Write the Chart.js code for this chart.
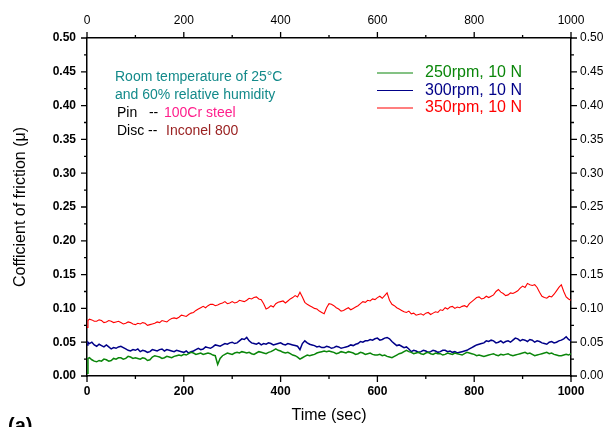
<!DOCTYPE html>
<html>
<head>
<meta charset="utf-8">
<script src="https://cdn.jsdelivr.net/npm/chart.js@4/dist/chart.umd.min.js"></script>
<style>
  html, body { margin: 0; padding: 0; background: #ffffff; }
  #wrap { width: 608px; height: 427px; position: relative; }
</style>
</head>
<body>
<div id="wrap"><canvas id="cof" width="608" height="427"></canvas></div>
<script>
// Sliding time (s)
const timeSec = [0, 2,
  5, 10, 15, 20, 25, 30, 35, 40, 45, 50,
  55, 60, 65, 70, 75, 80, 85, 90, 95, 100,
  105, 110, 115, 120, 125, 130, 135, 140, 145, 150,
  155, 160, 165, 170, 175, 180, 185, 190, 195, 200,
  205, 210, 215, 220, 225, 230, 235, 240, 245, 250,
  255, 260, 265, 270, 275, 280, 285, 290, 295, 300,
  305, 310, 315, 320, 325, 330, 335, 340, 345, 350,
  355, 360, 365, 370, 375, 380, 385, 390, 395, 400,
  405, 410, 415, 420, 425, 430, 435, 440, 445, 450,
  455, 460, 465, 470, 475, 480, 485, 490, 495, 500,
  505, 510, 515, 520, 525, 530, 535, 540, 545, 550,
  555, 560, 565, 570, 575, 580, 585, 590, 595, 600,
  605, 610, 615, 620, 625, 630, 635, 640, 645, 650,
  655, 660, 665, 670, 675, 680, 685, 690, 695, 700,
  705, 710, 715, 720, 725, 730, 735, 740, 745, 750,
  755, 760, 765, 770, 775, 780, 785, 790, 795, 800,
  805, 810, 815, 820, 825, 830, 835, 840, 845, 850,
  855, 860, 865, 870, 875, 880, 885, 890, 895, 900,
  905, 910, 915, 920, 925, 930, 935, 940, 945, 950,
  955, 960, 965, 970, 975, 980, 985, 990, 995, 1000];

// Coefficient of friction, 250 rpm / 10 N
const cof250 = [0.004, 0.026,
  0.027, 0.024, 0.022, 0.021, 0.023, 0.022, 0.025, 0.024, 0.022, 0.023,
  0.026, 0.025, 0.027, 0.027, 0.025, 0.026, 0.029, 0.028, 0.026, 0.027,
  0.026, 0.025, 0.027, 0.026, 0.023, 0.024, 0.028, 0.030, 0.029, 0.028,
  0.026, 0.027, 0.029, 0.028, 0.027, 0.029, 0.030, 0.031, 0.030, 0.032,
  0.031, 0.033, 0.035, 0.034, 0.032, 0.033, 0.034, 0.032, 0.033, 0.034,
  0.033, 0.031, 0.030, 0.017, 0.026, 0.030, 0.032, 0.034, 0.033, 0.032,
  0.034, 0.035, 0.034, 0.036, 0.035, 0.034, 0.035, 0.033, 0.032, 0.034,
  0.036, 0.035, 0.034, 0.033, 0.035, 0.036, 0.038, 0.040, 0.038, 0.037,
  0.035, 0.034, 0.035, 0.033, 0.031, 0.030, 0.028, 0.025, 0.027, 0.029,
  0.031, 0.030, 0.031, 0.032, 0.034, 0.035, 0.036, 0.037, 0.036, 0.037,
  0.036, 0.035, 0.033, 0.034, 0.036, 0.035, 0.034, 0.036, 0.035, 0.034,
  0.032, 0.033, 0.035, 0.034, 0.032, 0.033, 0.034, 0.032, 0.031, 0.031,
  0.032, 0.030, 0.031, 0.029, 0.028, 0.027, 0.029, 0.031, 0.033, 0.034,
  0.036, 0.038, 0.036, 0.035, 0.033, 0.034, 0.035, 0.033, 0.032, 0.034,
  0.035, 0.033, 0.032, 0.034, 0.033, 0.033, 0.031, 0.032, 0.034, 0.033,
  0.032, 0.034, 0.033, 0.032, 0.031, 0.033, 0.035, 0.034, 0.033, 0.032,
  0.030, 0.031, 0.030, 0.029, 0.030, 0.031, 0.032, 0.033, 0.031, 0.030,
  0.032, 0.031, 0.032, 0.033, 0.031, 0.030, 0.031, 0.032, 0.033, 0.034,
  0.035, 0.033, 0.034, 0.032, 0.030, 0.031, 0.032, 0.033, 0.034, 0.035,
  0.033, 0.034, 0.032, 0.031, 0.030, 0.030, 0.031, 0.032, 0.031, 0.033];

// Coefficient of friction, 300 rpm / 10 N
const cof300 = [0.046, 0.050,
  0.048, 0.050, 0.046, 0.044, 0.047, 0.045, 0.043, 0.046, 0.043, 0.040,
  0.042, 0.041, 0.043, 0.044, 0.042, 0.040, 0.038, 0.037, 0.039, 0.038,
  0.040, 0.036, 0.038, 0.037, 0.035, 0.036, 0.039, 0.038, 0.037, 0.039,
  0.040, 0.037, 0.039, 0.038, 0.037, 0.036, 0.038, 0.037, 0.036, 0.035,
  0.037, 0.034, 0.036, 0.037, 0.039, 0.041, 0.039, 0.040, 0.043, 0.042,
  0.041, 0.043, 0.046, 0.045, 0.044, 0.046, 0.048, 0.047, 0.049, 0.050,
  0.048, 0.049, 0.052, 0.055, 0.054, 0.057, 0.052, 0.049, 0.048, 0.047,
  0.049, 0.046, 0.048, 0.047, 0.049, 0.048, 0.046, 0.047, 0.048, 0.049,
  0.047, 0.046, 0.048, 0.047, 0.046, 0.045, 0.044, 0.039, 0.048, 0.052,
  0.049, 0.047, 0.046, 0.045, 0.043, 0.044, 0.042, 0.042, 0.044, 0.043,
  0.041, 0.042, 0.044, 0.043, 0.041, 0.042, 0.043, 0.044, 0.046, 0.045,
  0.047, 0.048, 0.051, 0.050, 0.052, 0.052, 0.054, 0.053, 0.055, 0.056,
  0.053, 0.054, 0.056, 0.057, 0.055, 0.051, 0.048, 0.045, 0.046, 0.044,
  0.042, 0.043, 0.040, 0.036, 0.038, 0.037, 0.035, 0.036, 0.038, 0.037,
  0.035, 0.036, 0.038, 0.037, 0.035, 0.036, 0.038, 0.038, 0.036, 0.037,
  0.035, 0.036, 0.034, 0.035, 0.036, 0.037, 0.038, 0.040, 0.042, 0.044,
  0.046, 0.047, 0.048, 0.049, 0.052, 0.051, 0.053, 0.052, 0.049, 0.050,
  0.052, 0.049, 0.051, 0.052, 0.050, 0.053, 0.056, 0.055, 0.052, 0.054,
  0.053, 0.051, 0.054, 0.053, 0.050, 0.052, 0.051, 0.049, 0.048, 0.047,
  0.050, 0.051, 0.049, 0.050, 0.052, 0.053, 0.055, 0.058, 0.054, 0.052];

// Coefficient of friction, 350 rpm / 10 N
const cof350 = [0.072, 0.082,
  0.084, 0.083, 0.081, 0.081, 0.083, 0.082, 0.079, 0.080, 0.082, 0.081,
  0.079, 0.080, 0.081, 0.079, 0.077, 0.078, 0.080, 0.079, 0.077, 0.076,
  0.078, 0.077, 0.079, 0.078, 0.075, 0.076, 0.077, 0.078, 0.080, 0.079,
  0.082, 0.081, 0.080, 0.083, 0.085, 0.086, 0.085, 0.087, 0.090, 0.089,
  0.088, 0.091, 0.093, 0.094, 0.097, 0.099, 0.101, 0.103, 0.101, 0.104,
  0.106, 0.106, 0.104, 0.105, 0.107, 0.108, 0.110, 0.107, 0.108, 0.110,
  0.108, 0.109, 0.112, 0.111, 0.110, 0.112, 0.115, 0.114, 0.116, 0.117,
  0.114, 0.113, 0.107, 0.099, 0.101, 0.104, 0.102, 0.107, 0.109, 0.110,
  0.111, 0.108, 0.111, 0.114, 0.116, 0.119, 0.117, 0.124, 0.117, 0.109,
  0.106, 0.104, 0.102, 0.100, 0.099, 0.096, 0.094, 0.092, 0.101, 0.107,
  0.106, 0.104, 0.101, 0.099, 0.096, 0.097, 0.099, 0.101, 0.098, 0.100,
  0.102, 0.104, 0.107, 0.110, 0.109, 0.112, 0.111, 0.114, 0.113, 0.116,
  0.118, 0.115, 0.119, 0.123, 0.112, 0.106, 0.104, 0.101, 0.099, 0.097,
  0.095, 0.094, 0.096, 0.092, 0.093, 0.090, 0.091, 0.092, 0.090, 0.093,
  0.094, 0.091, 0.093, 0.095, 0.094, 0.098, 0.097, 0.101, 0.099, 0.102,
  0.103, 0.100, 0.102, 0.101, 0.103, 0.104, 0.102, 0.107, 0.110, 0.113,
  0.116, 0.117, 0.114, 0.115, 0.118, 0.116, 0.118, 0.120, 0.125, 0.128,
  0.124, 0.122, 0.119, 0.120, 0.123, 0.122, 0.124, 0.126, 0.130, 0.133,
  0.131, 0.137, 0.135, 0.134, 0.135, 0.131, 0.124, 0.118, 0.116, 0.115,
  0.118, 0.117, 0.121, 0.126, 0.131, 0.135, 0.125, 0.117, 0.114, 0.112];

const seriesLabels = ['250rpm, 10 N', '300rpm, 10 N', '350rpm, 10 N'];
const xTickValues = [0, 200, 400, 600, 800, 1000];
const yTickValues = [0, 0.05, 0.10, 0.15, 0.20, 0.25, 0.30, 0.35, 0.40, 0.45, 0.50];

const lineColors = ['#0a860a', '#000088', '#ff0000'];
const FONT = 'Arial, "Liberation Sans", sans-serif';

function toPoints(values) {
  return timeSec.map((t, i) => ({ x: t, y: values[i] }));
}

function setTicks(values) {
  return scale => { scale.ticks = values.map(v => ({ value: v })); };
}

// Tick marks drawn outward on all four axes, with a minor tick between majors
const tickMarks = {
  id: 'tickMarks',
  afterDraw(chart) {
    const ctx = chart.ctx;
    const { x, xTop, y, yRight } = chart.scales;
    const a = chart.chartArea;
    const major = 6, minor = 3;
    ctx.save();
    ctx.strokeStyle = '#000';
    ctx.lineWidth = 1.3;
    ctx.beginPath();
    const xMinor = xTickValues.slice(1).map((v, i) => (v + xTickValues[i]) / 2);
    const yMinor = yTickValues.slice(1).map((v, i) => (v + yTickValues[i]) / 2);
    xTickValues.forEach(v => {
      const px = x.getPixelForValue(v);
      ctx.moveTo(px, a.bottom); ctx.lineTo(px, a.bottom + major);
      const pt = xTop.getPixelForValue(v);
      ctx.moveTo(pt, a.top); ctx.lineTo(pt, a.top - major);
    });
    xMinor.forEach(v => {
      const px = x.getPixelForValue(v);
      ctx.moveTo(px, a.bottom); ctx.lineTo(px, a.bottom + minor);
      const pt = xTop.getPixelForValue(v);
      ctx.moveTo(pt, a.top); ctx.lineTo(pt, a.top - minor);
    });
    yTickValues.forEach(v => {
      const py = y.getPixelForValue(v);
      ctx.moveTo(a.left, py); ctx.lineTo(a.left - major, py);
      const pr = yRight.getPixelForValue(v);
      ctx.moveTo(a.right, pr); ctx.lineTo(a.right + major, pr);
    });
    yMinor.forEach(v => {
      const py = y.getPixelForValue(v);
      ctx.moveTo(a.left, py); ctx.lineTo(a.left - minor, py);
      const pr = yRight.getPixelForValue(v);
      ctx.moveTo(a.right, pr); ctx.lineTo(a.right + minor, pr);
    });
    ctx.stroke();
    ctx.restore();
  }
};

// In-plot legend and test-condition notes
const notes = {
  id: 'notes',
  afterDraw(chart) {
    const ctx = chart.ctx;
    ctx.save();
    // legend
    ctx.font = '16px ' + FONT;
    ctx.textBaseline = 'middle';
    chart.data.datasets.forEach((ds, i) => {
      const yy = 73 + i * 17.5;
      ctx.strokeStyle = ds.borderColor;
      ctx.lineWidth = 1.2;
      ctx.beginPath();
      ctx.moveTo(377, yy); ctx.lineTo(413, yy);
      ctx.stroke();
      ctx.fillStyle = ds.borderColor;
      ctx.fillText(ds.label, 425, yy);
    });
    // conditions
    ctx.font = '14px ' + FONT;
    ctx.fillStyle = '#138a8a';
    ctx.fillText('Room temperature of 25\u00B0C', 115, 77);
    ctx.fillText('and 60% relative humidity', 115, 95);
    ctx.fillStyle = '#000';
    ctx.fillText('Pin   --', 117, 113);
    ctx.fillText('Disc --', 117, 131);
    ctx.fillStyle = '#ff1f8c';
    ctx.fillText('100Cr steel', 164, 113);
    ctx.fillStyle = '#9a2222';
    ctx.fillText('Inconel 800', 166, 131);
    // panel tag
    ctx.font = 'bold 20px ' + FONT;
    ctx.fillStyle = '#000';
    ctx.textBaseline = 'alphabetic';
    ctx.fillText('(a)', 8, 432);
    ctx.restore();
  }
};

const border = { display: true, color: '#000', width: 1.5 };
const noGrid = { display: false, drawTicks: false, drawOnChartArea: false };
const plainNumber = v => String(v);

new Chart(document.getElementById('cof'), {
  type: 'line',
  data: {
    datasets: [
      { label: seriesLabels[0], data: toPoints(cof250), borderColor: lineColors[0], borderWidth: 1.5 },
      { label: seriesLabels[1], data: toPoints(cof300), borderColor: lineColors[1], borderWidth: 1.5 },
      { label: seriesLabels[2], data: toPoints(cof350), borderColor: lineColors[2], borderWidth: 1.1 }
    ]
  },
  options: {
    responsive: false,
    devicePixelRatio: 1,
    animation: false,
    layout: { padding: 0 },
    elements: { point: { radius: 0 }, line: { tension: 0 } },
    plugins: { legend: { display: false }, tooltip: { enabled: false } },
    scales: {
      x: {
        type: 'linear', position: 'bottom', min: 0, max: 1000,
        afterBuildTicks: setTicks(xTickValues),
        afterFit: s => { s.height = 51; },
        grid: noGrid, border,
        ticks: { color: '#000', padding: 8, font: { family: FONT, size: 12, weight: 'bold' }, callback: plainNumber },
        title: { display: true, text: 'Time (sec)', color: '#000', font: { family: FONT, size: 16 }, padding: { top: 0, bottom: 1.5 } }
      },
      xTop: {
        type: 'linear', position: 'top', min: 0, max: 1000,
        afterBuildTicks: setTicks(xTickValues),
        afterFit: s => { s.height = 38; },
        grid: noGrid, border,
        ticks: { color: '#000', padding: 10, font: { family: FONT, size: 12 }, callback: plainNumber }
      },
      y: {
        type: 'linear', position: 'left', min: 0, max: 0.5,
        afterBuildTicks: setTicks(yTickValues),
        afterFit: s => { s.width = 87; },
        grid: noGrid, border,
        ticks: { color: '#000', padding: 11, font: { family: FONT, size: 12, weight: 'bold' }, callback: v => v.toFixed(2) },
        title: { display: true, text: 'Cofficient of friction (\u03BC)', color: '#000', font: { family: FONT, size: 16 }, padding: { top: 11, bottom: 0 } }
      },
      yRight: {
        type: 'linear', position: 'right', min: 0, max: 0.5,
        afterBuildTicks: setTicks(yTickValues),
        afterFit: s => { s.width = 37; },
        grid: noGrid, border,
        ticks: { color: '#000', padding: 9, font: { family: FONT, size: 12 }, callback: v => v.toFixed(2) }
      }
    }
  },
  plugins: [tickMarks, notes]
});
</script>
</body>
</html>
